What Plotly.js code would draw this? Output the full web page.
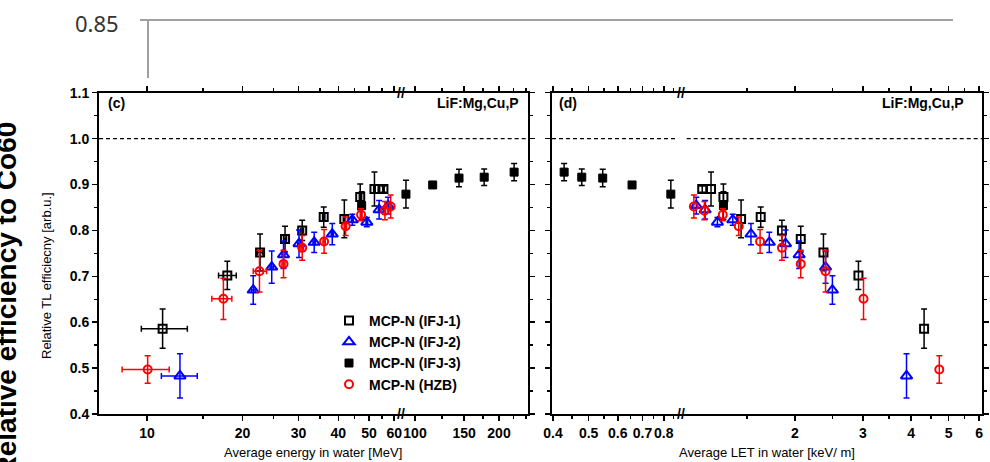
<!DOCTYPE html>
<html><head><meta charset="utf-8">
<script src="https://cdn.plot.ly/plotly-3.0.1.min.js"></script>
<style>html,body{margin:0;padding:0;background:#fff}#chart{width:990px;height:462px}</style>
</head><body><div id="chart"></div>
<script>
// ---------------- DATA ----------------
const seriesNames = ['MCP-N (IFJ-1)', 'MCP-N (IFJ-2)', 'MCP-N (IFJ-3)', 'MCP-N (HZB)'];

// IFJ-1 (open black squares)
const ifj1Energy      = [11.2, 17.9, 22.7, 27.2, 30.8, 36.0, 41.8, 46.9, 52.0, 55.5];
const ifj1EnergyErrLo = [1.6, 1.1, 0.4, 0.3, 0.3, 0.3, 0.3, 0.3, 0.3, 0.3];
const ifj1EnergyErrHi = [2.2, 1.2, 0.4, 0.3, 0.3, 0.3, 0.3, 0.3, 0.3, 0.3];
const ifj1LET         = [4.32, 2.92, 2.37, 2.07, 1.85, 1.63, 1.45, 1.305, 1.212, 1.15];
const ifj1Eff         = [0.586, 0.702, 0.752, 0.781, 0.800, 0.829, 0.825, 0.873, 0.890, 0.890];
const ifj1EffErr      = [0.043, 0.031, 0.040, 0.028, 0.022, 0.022, 0.041, 0.028, 0.037, 0.007];

// IFJ-2 (open blue triangles)
const ifj2Energy      = [12.7, 21.6, 24.7, 26.9, 30.1, 33.6, 38.3, 44.3, 49.2, 53.8, 57.4];
const ifj2EnergyErrLo = [1.6, 0.3, 0.3, 0.3, 0.3, 0.3, 0.3, 0.3, 0.3, 0.3, 0.3];
const ifj2EnergyErrHi = [1.7, 0.3, 0.3, 0.3, 0.3, 0.3, 0.3, 0.3, 0.3, 0.3, 0.3];
const ifj2LET         = [3.89, 2.50, 2.40, 2.05, 1.89, 1.716, 1.538, 1.38, 1.259, 1.17, 1.11];
const ifj2Eff         = [0.483, 0.670, 0.720, 0.747, 0.771, 0.774, 0.792, 0.823, 0.818, 0.845, 0.854];
const ifj2EffErr      = [0.048, 0.031, 0.035, 0.030, 0.030, 0.022, 0.023, 0.012, 0.010, 0.020, 0.018];

// IFJ-3 (filled black squares)
const ifj3Energy      = [47.4, 92.8, 115.7, 143.8, 177.0, 226.6];
const ifj3EnergyErrLo = [0.3, 0.5, 0.5, 0.5, 0.5, 0.5];
const ifj3EnergyErrHi = [0.3, 0.5, 0.5, 0.5, 0.5, 0.5];
const ifj3LET         = [1.305, 0.836, 0.656, 0.546, 0.479, 0.429];
const ifj3Eff         = [0.854, 0.879, 0.899, 0.914, 0.916, 0.927];
const ifj3EffErr      = [0.030, 0.030, 0.006, 0.019, 0.018, 0.019];

// HZB (open red circles)
const hzbEnergy       = [10.05, 17.4, 22.6, 26.9, 30.8, 36.1, 42.2, 47.2, 56.1, 58.5];
const hzbEnergyErrLo  = [1.7, 1.4, 1.0, 0.3, 0.3, 0.3, 0.3, 0.3, 0.3, 0.3];
const hzbEnergyErrHi  = [1.7, 1.1, 1.2, 0.3, 0.3, 0.3, 0.3, 0.3, 0.3, 0.3];
const hzbLET          = [4.73, 3.01, 2.40, 2.07, 1.85, 1.624, 1.43, 1.30, 1.165, 1.094];
const hzbEff          = [0.497, 0.651, 0.711, 0.727, 0.762, 0.776, 0.809, 0.834, 0.843, 0.852];
const hzbEffErr       = [0.030, 0.045, 0.045, 0.030, 0.027, 0.026, 0.020, 0.013, 0.020, 0.025];

// tick labels
const yTicks        = [0.4, 0.5, 0.6, 0.7, 0.8, 0.9, 1.0, 1.1];
const yMinor        = [0.45, 0.55, 0.65, 0.75, 0.85, 0.95, 1.05];
const energyTicksLo = [10, 20, 30, 40, 50, 60];
const energyMinorLo = [15, 25, 35, 45, 55];
const energyTicksHi = [100, 150, 200];
const energyMinorHi = [125, 175, 225, 250];
const letTicksLo    = [0.4, 0.5, 0.6, 0.7, 0.8];
const letMinorLo    = [0.45, 0.55, 0.65, 0.75, 0.85];
const letTicksHi    = [2, 3, 4, 5, 6];
const letMinorHi    = [1.5, 2.5, 3.5, 4.5, 5.5];

// ---------------- LAYOUT HELPERS ----------------
const W = 990, H = 462;
const X = v => v / W;
const Y = v => 1 - v / H;
const FONT = 'Liberation Sans, Arial, sans-serif';

const styles = [
  {symbol: 'square-open',        size: 8,  color: '#000000', lw: 2},
  {symbol: 'triangle-up-open',   size: 10, color: '#0000ff', lw: 2},
  {symbol: 'square',             size: 8,  color: '#000000', lw: 1},
  {symbol: 'circle-open',        size: 8,  color: '#ff0000', lw: 2}
];
const data = [
  {E: ifj1Energy, lo: ifj1EnergyErrLo, hi: ifj1EnergyErrHi, L: ifj1LET, y: ifj1Eff, e: ifj1EffErr},
  {E: ifj2Energy, lo: ifj2EnergyErrLo, hi: ifj2EnergyErrHi, L: ifj2LET, y: ifj2Eff, e: ifj2EffErr},
  {E: ifj3Energy, lo: ifj3EnergyErrLo, hi: ifj3EnergyErrHi, L: ifj3LET, y: ifj3Eff, e: ifj3EffErr},
  {E: hzbEnergy,  lo: hzbEnergyErrLo,  hi: hzbEnergyErrHi,  L: hzbLET,  y: hzbEff,  e: hzbEffErr}
];

function pick(arr, idx) { return idx.map(i => arr[i]); }

const traces = [];
data.forEach((d, k) => {
  const st = styles[k];
  const marker = {symbol: st.symbol, size: st.size, color: st.color, line: {color: st.color, width: st.lw}};
  const segs = [
    {xa: 'x',  ya: 'y',  xs: d.E, test: v => v < 75,  withX: true, legend: true},
    {xa: 'x2', ya: 'y2', xs: d.E, test: v => v >= 75, withX: true, legend: false},
    {xa: 'x3', ya: 'y3', xs: d.L, test: v => v < 0.9, withX: false, legend: false},
    {xa: 'x4', ya: 'y4', xs: d.L, test: v => v >= 0.9, withX: false, legend: false}
  ];
  segs.forEach(s => {
    const idx = s.xs.map((v, i) => s.test(v) ? i : -1).filter(i => i >= 0);
    const t = {
      type: 'scatter', mode: 'markers', name: seriesNames[k], legendgroup: seriesNames[k],
      showlegend: s.legend,
      x: pick(s.xs, idx), y: pick(d.y, idx), xaxis: s.xa, yaxis: s.ya,
      marker: marker, cliponaxis: false,
      error_y: {type: 'data', array: pick(d.e, idx), color: st.color, thickness: 1.5, width: 3}
    };
    if (s.withX) {
      t.error_x = {type: 'data', symmetric: false, array: pick(d.hi, idx), arrayminus: pick(d.lo, idx),
                   color: st.color, thickness: 1.5, width: 3};
    }
    traces.push(t);
  });
});

const tickFont = {family: FONT, size: 14, color: '#000', weight: 'bold'};
const baseAx = {
  showgrid: false, zeroline: false, showline: true, linecolor: '#000', linewidth: 2,
  ticks: 'outside', ticklen: 5, tickwidth: 1.5, tickcolor: '#000', tickfont: tickFont, tickangle: 0
};
const yDom = [Y(414), Y(92.7)];
function yAx(extra) {
  return Object.assign({}, baseAx, {
    domain: yDom, range: [0.4, 1.1], tickmode: 'array', tickvals: yTicks,
    ticktext: yTicks.map(v => v.toFixed(1)),
    minor: {tickmode: 'array', tickvals: yMinor, ticks: 'outside', ticklen: 3, tickwidth: 1.5, tickcolor: '#000'},
    mirror: false
  }, extra);
}
function xAx(extra, ticks, minor) {
  return Object.assign({}, baseAx, {
    type: 'log', tickmode: 'array', tickvals: ticks, ticktext: ticks.map(String), mirror: 'ticks',
    minor: {tickmode: 'array', tickvals: minor, ticks: 'outside', ticklen: 3, tickwidth: 1.5, tickcolor: '#000'}
  }, extra);
}

const dashLine = (xref, yref, x0, x1) => ({
  type: 'line', xref: xref, yref: yref, x0: x0, x1: x1, y0: 1.0, y1: 1.0,
  line: {color: '#000', width: 1.2, dash: '4px,3px'}
});

const ann = (text, x, y, opts) => Object.assign({
  text: text, x: x, y: y, xref: 'paper', yref: 'paper', showarrow: false,
  xanchor: 'center', yanchor: 'middle',
  font: {family: FONT, size: 14, color: '#000'}
}, opts);

const bold14 = {family: FONT, size: 14, color: '#000', weight: 'bold'};

const layout = {
  width: W, height: H, margin: {l: 0, r: 0, t: 0, b: 0, pad: 0},
  paper_bgcolor: '#fff', plot_bgcolor: 'rgba(0,0,0,0)',
  showlegend: true,
  legend: {x: X(329), y: Y(305), xanchor: 'left', yanchor: 'top', bgcolor: 'rgba(0,0,0,0)',
           font: {family: FONT, size: 14, color: '#000', weight: 'bold'}, tracegroupgap: 0},
  xaxis:  xAx({domain: [X(99), X(400.5)],  range: [0.849, 1.798],  anchor: 'y'},  energyTicksLo, energyMinorLo),
  xaxis2: xAx({domain: [X(400.5), X(528)], range: [1.948, 2.405],  anchor: 'y2'}, energyTicksHi, energyMinorHi),
  xaxis3: xAx({domain: [X(552), X(681)],   range: [-0.4005, -0.0502], anchor: 'y3'}, letTicksLo, letMinorLo),
  xaxis4: xAx({domain: [X(681), X(982)],   range: [0.0057, 0.7855], anchor: 'y4'}, letTicksHi, letMinorHi),
  yaxis:  yAx({anchor: 'x'}),
  yaxis2: yAx({anchor: 'x2', side: 'right', showticklabels: false}),
  yaxis3: yAx({anchor: 'x3', showticklabels: false}),
  yaxis4: yAx({anchor: 'x4', side: 'right', showticklabels: false}),
  shapes: [
    dashLine('x domain', 'y', 0, 0.982),
    dashLine('x2 domain', 'y2', 0.017, 1),
    dashLine('x3 domain', 'y3', 0, 0.961),
    dashLine('x4 domain', 'y4', 0.019, 1),
    {type: 'line', xref: 'paper', yref: 'paper', x0: X(140), x1: X(953), y0: Y(20), y1: Y(20), line: {color: '#a0a0a0', width: 2}},
    {type: 'line', xref: 'paper', yref: 'paper', x0: X(148), x1: X(148), y0: Y(20), y1: Y(78), line: {color: '#a0a0a0', width: 2}}
  ],
  annotations: [
    ann('0.85', X(97), Y(23), {font: {family: 'Noto Sans, sans-serif', size: 22, color: '#333'}}),
    ann('Relative efficiency to Co60', X(6), Y(120), {textangle: -90, yanchor: 'top',
        font: {family: FONT, size: 28, color: '#000', weight: 'bold'}}),
    ann('Relative TL efficiecny [arb.u.]', X(46), Y(276), {textangle: -90, font: {family: FONT, size: 13, color: '#000'}}),
    ann('Average energy in water [MeV]', X(313), Y(452), {font: {family: FONT, size: 13, color: '#000'}}),
    ann('Average LET in water [keV/ m]', X(767), Y(452), {font: {family: FONT, size: 13, color: '#000'}}),
    ann('(c)', X(106), Y(103), {xanchor: 'left', font: bold14}),
    ann('(d)', X(557), Y(103), {xanchor: 'left', font: bold14}),
    ann('LiF:Mg,Cu,P', X(521), Y(103), {xanchor: 'right', font: bold14}),
    ann('LiF:Mg,Cu,P', X(966), Y(103), {xanchor: 'right', font: bold14}),
    ann('//', X(400.5), Y(92.7), {font: bold14}),
    ann('//', X(400.5), Y(414), {font: bold14}),
    ann('//', X(681), Y(92.7), {font: bold14}),
    ann('//', X(681), Y(414), {font: bold14})
  ]
};

Plotly.newPlot('chart', traces, layout, {displayModeBar: false, staticPlot: true});
</script>
</body></html>
